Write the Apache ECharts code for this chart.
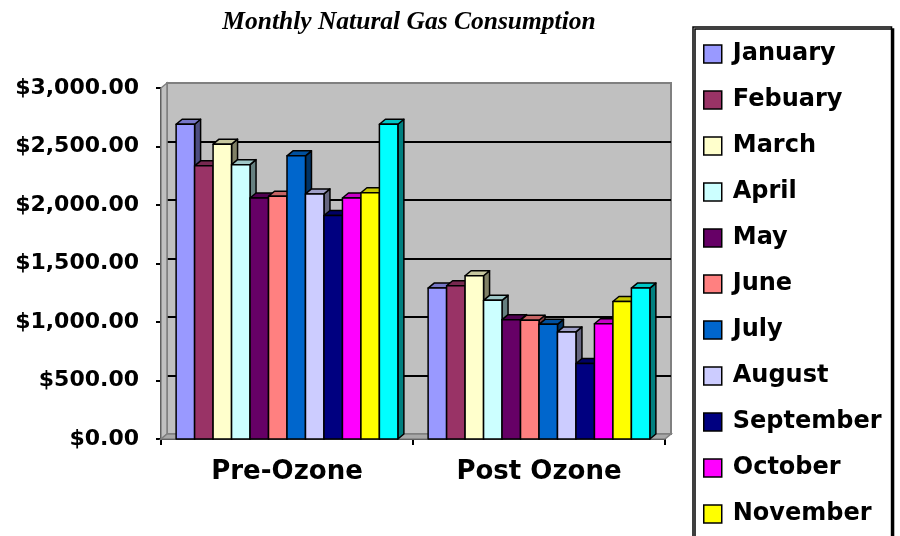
<!DOCTYPE html>
<html>
<head>
<meta charset="utf-8">
<script src="https://cdn.jsdelivr.net/npm/echarts@6/dist/echarts.min.js"></script>
<style>html,body{margin:0;padding:0;background:#fff}#c{width:900px;height:536px}</style>
</head>
<body>
<div id="c"></div>
<script>
const categories = ['Pre-Ozone', 'Post Ozone'];
const months = ['January','Febuary','March','April','May','June','July','August','September','October','November','December'];
const preOzone  = [2690, 2335, 2520, 2345, 2060, 2075, 2420, 2095, 1910, 2060, 2105, 2690];
const postOzone = [1290, 1310, 1395, 1185, 1020, 1015, 980, 915, 645, 985, 1175, 1290];
const monthColors = ['#9999FF','#993366','#FFFFCC','#CCFFFF','#660066','#FF8080','#0066CC','#CCCCFF','#000080','#FF00FF','#FFFF00','#00FFFF'];
const yTicks = [0, 500, 1000, 1500, 2000, 2500, 3000];

const FRONT = {left: 161, top: 88, width: 504, height: 351};
const DX = 6, DY = 5;
const GAP = 0.12;

function shade(hex, f) {
  const n = parseInt(hex.slice(1), 16);
  const r = Math.round(((n >> 16) & 255) * f), g = Math.round(((n >> 8) & 255) * f), b = Math.round((n & 255) * f);
  return 'rgb(' + r + ',' + g + ',' + b + ')';
}

function makeRender(idx) {
  const col = monthColors[idx];
  return function (params, api) {
    const ci = api.value(0), v = api.value(1);
    const base = api.coord([ci, 0]);
    const top = api.coord([ci, v]);
    const band = api.size([1, 0])[0];
    const usable = band * (1 - GAP);
    const w = usable / months.length;
    const x0 = base[0] - usable / 2 + idx * w;
    const x1 = x0 + w;
    const ty = top[1], by = base[1];
    const stroke = {stroke: '#000', lineWidth: 1.5, lineJoin: 'round'};
    return {
      type: 'group',
      children: [
        {type: 'polygon', shape: {points: [[x1, ty], [x1 + DX, ty - DY], [x1 + DX, by - DY], [x1, by]]},
         style: Object.assign({fill: shade(col, 0.5)}, stroke)},
        {type: 'polygon', shape: {points: [[x0, ty], [x0 + DX, ty - DY], [x1 + DX, ty - DY], [x1, ty]]},
         style: Object.assign({fill: shade(col, 0.78)}, stroke)},
        {type: 'rect', shape: {x: x0, y: ty, width: w, height: by - ty},
         style: Object.assign({fill: col}, stroke)}
      ]
    };
  };
}

const series = months.map(function (m, i) {
  return {
    name: m,
    type: 'custom',
    xAxisIndex: 1,
    yAxisIndex: 1,
    itemStyle: {color: monthColors[i], borderColor: '#000', borderWidth: 1.5},
    renderItem: makeRender(i),
    encode: {x: 0, y: 1},
    data: [[0, preOzone[i]], [1, postOzone[i]]]
  };
});

const L = FRONT.left, T = FRONT.top, R = FRONT.left + FRONT.width, B = FRONT.top + FRONT.height;

const chart = echarts.init(document.getElementById('c'), null, {renderer: 'canvas'});
chart.setOption({
  animation: false,
  backgroundColor: '#fff',
  title: {
    text: 'Monthly Natural Gas Consumption',
    left: 404, top: 4, textAlign: 'center',
    textStyle: {fontFamily: 'Liberation Serif', fontStyle: 'italic', fontWeight: 'bold', fontSize: 25.5, color: '#000'}
  },
  legend: {
    orient: 'vertical',
    left: 693, top: 27, height: 900,
    padding: [13, 10, 10, 10],
    itemGap: 18, itemWidth: 18, itemHeight: 18,
    icon: 'rect',
    backgroundColor: '#fff', borderColor: '#000', borderWidth: 1.5,
    shadowColor: '#000', shadowOffsetX: 2, shadowOffsetY: 2, shadowBlur: 0,
    itemStyle: {borderColor: '#000', borderWidth: 1.5},
    textStyle: {fontFamily: 'DejaVu Sans', fontWeight: 'bold', fontSize: 24, color: '#000', lineHeight: 28, padding: [0, 0, 0, 6]},
    data: months
  },
  grid: [
    {left: L + DX, top: T - DY, width: FRONT.width, height: FRONT.height, show: true,
     backgroundColor: '#C0C0C0', borderColor: '#808080', borderWidth: 2},
    {left: L, top: T, width: FRONT.width, height: FRONT.height}
  ],
  graphic: [
    {type: 'polygon', z: 1, shape: {points: [[L, T], [L + DX, T - DY], [L + DX, B - DY], [L, B]]},
     style: {fill: '#C0C0C0', stroke: '#808080', lineWidth: 1.5}},
    {type: 'polygon', z: 1, shape: {points: [[L, B], [L + DX, B - DY], [R + DX, B - DY], [R, B]]},
     style: {fill: '#A8A8A8', stroke: '#808080', lineWidth: 1.5}}
  ],
  xAxis: [
    {type: 'category', gridIndex: 0, data: categories, show: false},
    {type: 'category', gridIndex: 1, data: categories,
     axisLine: {lineStyle: {color: '#000', width: 2}},
     axisTick: {show: true, length: 6, lineStyle: {color: '#000', width: 2}},
     axisLabel: {margin: 20, fontFamily: 'DejaVu Sans', fontWeight: 'bold', fontSize: 26, color: '#000'}}
  ],
  yAxis: [
    {type: 'value', gridIndex: 0, min: yTicks[0], max: yTicks[yTicks.length - 1], interval: 500,
     axisLine: {show: false}, axisTick: {show: false}, axisLabel: {show: false},
     splitLine: {show: true, showMinLine: false, showMaxLine: false, lineStyle: {color: '#000', width: 2}}},
    {type: 'value', gridIndex: 1, min: yTicks[0], max: yTicks[yTicks.length - 1], interval: 500,
     axisLine: {show: true, lineStyle: {color: '#000', width: 2}},
     axisTick: {show: true, length: 5, lineStyle: {color: '#000', width: 2}},
     splitLine: {show: false},
     axisLabel: {margin: 22, fontFamily: 'DejaVu Sans', fontWeight: 'bold', fontSize: 22, color: '#000',
       formatter: function (v) { return '$' + v.toLocaleString('en-US', {minimumFractionDigits: 2, maximumFractionDigits: 2}); }}}
  ],
  series: series
});
</script>
</body>
</html>
